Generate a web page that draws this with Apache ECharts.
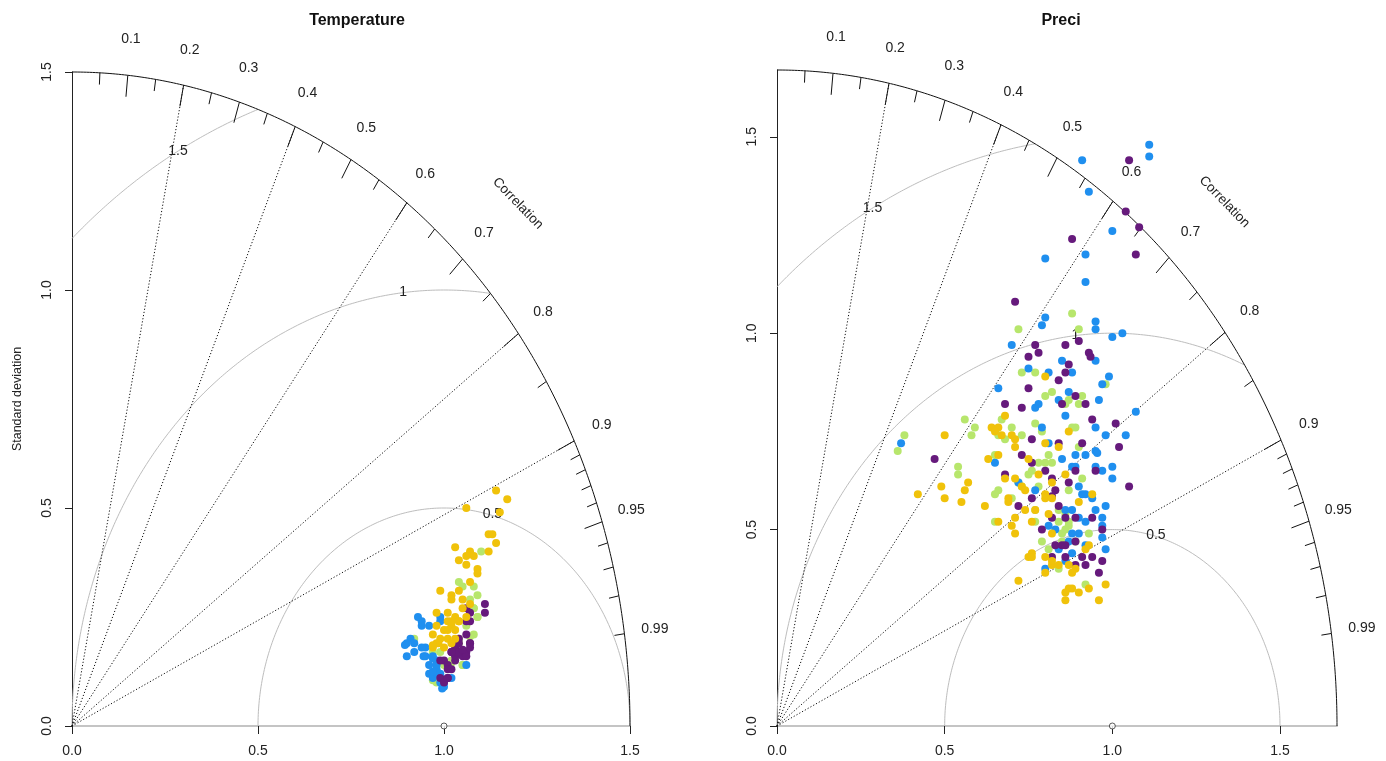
<!DOCTYPE html>
<html>
<head>
<meta charset="utf-8">
<script src="https://cdn.jsdelivr.net/npm/echarts@6/dist/echarts.min.js"></script>
<style>html,body{margin:0;padding:0;background:#fff}#c{width:1386px;height:761px}</style>
</head>
<body>
<div id="c"></div>
<script>
// ---------------- data ----------------
const panelTitles = ['Temperature', 'Preci'];
const maxSD = [1.5, 1.67];
const refSD = 1.0;
const sdTicks = [0, 0.5, 1.0, 1.5];
const corrLabelValues = [0.1, 0.2, 0.3, 0.4, 0.5, 0.6, 0.7, 0.8, 0.9, 0.95, 0.99];
const corrLineValues = [0.2, 0.4, 0.6, 0.8, 0.9];
const corrLongTicks = [0.1, 0.2, 0.3, 0.4, 0.5, 0.6, 0.7, 0.8, 0.9, 0.95];
const corrShortTicks = [0.05, 0.15, 0.25, 0.35, 0.45, 0.55, 0.65, 0.75, 0.85, 0.91, 0.92, 0.93, 0.94, 0.96, 0.97, 0.98, 0.99];
const rmsRadii = [0.5, 1, 1.5];
const rmsLabels = ['0.5', '1', '1.5'];
const rmsLabelPos = [[1.13, 0.487], [0.89, 0.996], [0.285, 1.318]];
const seriesNames = ['green', 'blue', 'purple', 'yellow'];
const seriesColors = ['#b7e66c', '#1f8fef', '#661a7c', '#f0c20a'];

// Temperature panel points: [x = sd*cor, y = sd*sqrt(1-cor^2)]
const tempBlue = [[0.93,0.25],[0.94,0.24],[0.96,0.23],[0.99,0.24],[0.91,0.20],[0.90,0.19],[0.90,0.16],[0.92,0.17],[0.95,0.18],[0.95,0.16],[0.97,0.16],[0.96,0.14],[0.96,0.12],[0.98,0.15],[0.97,0.11],[0.98,0.12],[1.00,0.10],[1.00,0.09],[0.99,0.10],[0.98,0.13],[1.06,0.14],[0.94,0.23],[0.895,0.186],[0.92,0.19],[0.94,0.18],[0.945,0.16],[0.97,0.155],[0.98,0.14],[0.97,0.125],[0.99,0.12],[1.02,0.11],[0.995,0.086],[0.99,0.25]];
const tempPurple = [[1.11,0.28],[1.11,0.26],[1.06,0.27],[1.06,0.24],[1.06,0.21],[1.07,0.19],[1.05,0.17],[1.03,0.16],[1.02,0.17],[1.03,0.18],[1.00,0.15],[1.01,0.14],[0.99,0.11],[1.01,0.11],[1.01,0.13],[1.04,0.20],[1.05,0.16],[0.99,0.15],[1.00,0.10],[1.07,0.26],[1.07,0.24],[1.04,0.19],[1.07,0.19],[1.04,0.17],[1.02,0.17],[1.06,0.17],[1.06,0.16],[1.03,0.15],[1.02,0.13],[1.01,0.11],[1.05,0.175],[1.07,0.18]];
const tempYellow = [[1.14,0.54],[1.17,0.52],[1.06,0.50],[1.15,0.49],[1.12,0.44],[1.13,0.44],[1.14,0.42],[1.03,0.41],[1.12,0.40],[1.07,0.40],[1.06,0.39],[1.08,0.39],[1.04,0.38],[1.06,0.37],[1.09,0.36],[1.09,0.35],[1.07,0.33],[0.99,0.31],[1.02,0.30],[1.02,0.29],[1.05,0.29],[1.04,0.31],[0.98,0.26],[1.01,0.24],[1.03,0.25],[0.98,0.23],[0.97,0.21],[1.00,0.22],[1.02,0.23],[1.04,0.24],[0.98,0.19],[0.99,0.20],[1.03,0.20],[0.97,0.18],[1.05,0.27],[1.02,0.24],[1.07,0.28],[1.03,0.22],[1.01,0.20],[1.04,0.24],[1.00,0.18],[1.02,0.19],[1.06,0.25],[1.01,0.26],[1.01,0.22],[0.985,0.19],[0.97,0.185]];
const tempGreen = [[1.10,0.40],[1.04,0.33],[1.05,0.32],[1.08,0.32],[1.09,0.30],[1.07,0.29],[1.08,0.27],[1.09,0.25],[1.08,0.21],[1.06,0.23],[1.04,0.19],[1.01,0.14],[0.98,0.10],[1.05,0.14],[1.02,0.15],[1.04,0.17],[0.92,0.20],[0.97,0.17],[1.08,0.27],[1.09,0.25],[1.04,0.20],[0.99,0.17],[1.03,0.16],[1.02,0.145],[1.05,0.14],[1.00,0.14],[0.97,0.105],[0.99,0.11],[1.07,0.205]];

// Preci panel points
const preciBlue = [[1.11,1.48],[1.11,1.45],[0.91,1.44],[0.93,1.36],[1.00,1.26],[0.92,1.20],[0.80,1.19],[0.92,1.13],[0.79,1.02],[0.80,1.04],[0.95,1.03],[0.95,1.01],[1.00,0.99],[1.03,1.00],[0.70,0.97],[0.75,0.91],[0.95,0.93],[0.85,0.93],[0.81,0.90],[0.88,0.90],[0.99,0.89],[0.97,0.87],[0.66,0.86],[0.87,0.85],[0.84,0.83],[0.96,0.83],[0.78,0.82],[0.77,0.81],[0.86,0.79],[1.07,0.80],[0.79,0.76],[0.95,0.76],[0.98,0.74],[1.04,0.74],[0.81,0.72],[0.95,0.70],[0.955,0.695],[0.89,0.69],[0.92,0.69],[0.85,0.68],[0.88,0.66],[0.89,0.66],[0.65,0.67],[1.00,0.66],[0.95,0.66],[0.97,0.65],[1.00,0.63],[0.72,0.62],[0.77,0.60],[0.90,0.61],[0.92,0.59],[0.91,0.59],[0.94,0.58],[0.98,0.56],[0.86,0.55],[0.88,0.55],[0.95,0.55],[0.97,0.53],[0.90,0.53],[0.92,0.52],[0.97,0.51],[0.81,0.51],[0.83,0.50],[0.88,0.49],[0.90,0.49],[0.97,0.48],[0.84,0.45],[0.87,0.47],[0.92,0.46],[0.98,0.45],[0.80,0.40],[0.86,0.42],[0.88,0.44],[0.37,0.72]];
const preciPurple = [[1.05,1.44],[1.04,1.31],[1.08,1.27],[1.07,1.20],[0.88,1.24],[0.71,1.08],[0.77,0.97],[0.86,0.97],[0.90,0.98],[0.75,0.94],[0.78,0.95],[0.93,0.95],[0.935,0.94],[0.87,0.92],[0.86,0.90],[0.84,0.88],[0.75,0.86],[0.89,0.84],[0.92,0.82],[0.85,0.82],[0.68,0.82],[0.73,0.81],[0.94,0.78],[1.01,0.77],[0.76,0.73],[0.84,0.72],[0.91,0.72],[1.02,0.71],[0.47,0.68],[0.73,0.69],[0.76,0.67],[0.89,0.65],[0.95,0.65],[0.80,0.65],[0.82,0.63],[0.87,0.62],[0.68,0.64],[1.05,0.61],[0.76,0.58],[0.72,0.56],[0.83,0.60],[0.82,0.585],[0.84,0.56],[0.79,0.50],[0.82,0.53],[0.86,0.53],[0.89,0.53],[0.94,0.53],[0.97,0.50],[0.83,0.46],[0.85,0.46],[0.86,0.46],[0.89,0.47],[0.91,0.43],[0.94,0.43],[0.97,0.42],[0.89,0.41],[0.82,0.43],[0.92,0.41],[0.96,0.39],[0.86,0.43]];
const preciYellow = [[0.80,0.89],[0.50,0.74],[0.64,0.76],[0.66,0.76],[0.68,0.79],[0.70,0.74],[0.71,0.73],[0.71,0.71],[0.67,0.74],[0.65,0.75],[0.80,0.72],[0.84,0.71],[0.87,0.75],[0.63,0.68],[0.66,0.69],[0.75,0.68],[0.78,0.64],[0.82,0.62],[0.86,0.64],[0.68,0.63],[0.71,0.63],[0.73,0.61],[0.74,0.60],[0.80,0.59],[0.80,0.58],[0.82,0.58],[0.49,0.61],[0.57,0.62],[0.56,0.60],[0.42,0.59],[0.50,0.58],[0.55,0.57],[0.62,0.56],[0.66,0.52],[0.69,0.58],[0.69,0.57],[0.74,0.55],[0.71,0.53],[0.77,0.55],[0.70,0.51],[0.71,0.49],[0.76,0.52],[0.81,0.54],[0.82,0.49],[0.90,0.57],[0.94,0.59],[0.75,0.43],[0.76,0.44],[0.76,0.43],[0.80,0.43],[0.82,0.41],[0.84,0.41],[0.87,0.41],[0.89,0.40],[0.88,0.39],[0.80,0.39],[0.92,0.45],[0.93,0.46],[0.72,0.37],[0.87,0.35],[0.88,0.35],[0.93,0.35],[0.98,0.36],[0.86,0.34],[0.90,0.34],[0.86,0.32],[0.96,0.32],[0.82,0.42]];
const preciGreen = [[0.88,1.05],[0.90,1.01],[0.72,1.01],[0.73,0.90],[0.77,0.90],[0.80,0.84],[0.82,0.85],[0.91,0.84],[0.87,0.83],[0.90,0.82],[0.86,0.82],[0.98,0.87],[0.88,0.76],[0.89,0.76],[0.79,0.75],[0.77,0.77],[0.73,0.74],[0.67,0.78],[0.70,0.76],[0.68,0.73],[0.66,0.74],[0.59,0.76],[0.58,0.74],[0.56,0.78],[0.38,0.74],[0.36,0.70],[0.54,0.66],[0.54,0.64],[0.65,0.69],[0.81,0.69],[0.78,0.67],[0.80,0.67],[0.82,0.67],[0.90,0.71],[0.91,0.63],[0.75,0.64],[0.76,0.65],[0.72,0.62],[0.73,0.61],[0.66,0.60],[0.65,0.59],[0.70,0.58],[0.78,0.61],[0.87,0.60],[0.84,0.55],[0.86,0.54],[0.84,0.52],[0.85,0.49],[0.87,0.51],[0.77,0.55],[0.77,0.52],[0.65,0.52],[0.79,0.47],[0.93,0.49],[0.84,0.40],[0.92,0.36],[0.81,0.45],[0.89,0.47],[0.86,0.50],[0.87,0.52],[0.85,0.47]];

const panelData = [
  [tempGreen, tempBlue, tempPurple, tempYellow],
  [preciGreen, preciBlue, preciPurple, preciYellow]
];

// ---------------- layout / style ----------------
const FONT = '"Liberation Sans", Arial, Helvetica, sans-serif';
const grids = [
  {left: 72, top: 72, width: 558, height: 654},
  {left: 777, top: 70, width: 560, height: 656}
];
const titleX = [352, 1056];

// geometry helpers (guide lines only)
function outerArc(R, n) {
  const pts = [];
  for (let i = 0; i <= n; i++) { const t = Math.PI / 2 * i / n; pts.push([R * Math.cos(t), R * Math.sin(t)]); }
  return pts;
}
function rmsArc(r, R, n) {
  const xi = (R * R - r * r + refSD * refSD) / (2 * refSD);
  const t0 = (refSD + r <= R) ? 0 : Math.acos(Math.max(-1, Math.min(1, (xi - refSD) / r)));
  const t1 = (r <= refSD) ? Math.PI : Math.acos(-refSD / r);
  const pts = [];
  for (let i = 0; i <= n; i++) { const t = t0 + (t1 - t0) * i / n; pts.push([refSD + r * Math.cos(t), r * Math.sin(t)]); }
  return pts;
}
function polar(c, r) { return [r * c, r * Math.sqrt(1 - c * c)]; }

const xAxes = [], yAxes = [], series = [];
for (let p = 0; p < 2; p++) {
  const R = maxSD[p];
  xAxes.push({
    gridIndex: p, type: 'value', min: 0, max: R,
    splitLine: {show: false},
    axisLine: {show: true, lineStyle: {color: '#c4c4c4', width: 2}},
    axisTick: {show: true, length: 8, customValues: sdTicks, lineStyle: {color: '#222', width: 1}},
    axisLabel: {show: true, customValues: sdTicks, margin: 18, color: '#222', fontSize: 14, fontFamily: FONT,
      formatter: v => v.toFixed(1)}
  });
  yAxes.push({
    gridIndex: p, type: 'value', min: 0, max: R,
    splitLine: {show: false},
    axisLine: {show: true, lineStyle: {color: '#222', width: 1}},
    axisTick: {show: true, length: 7, customValues: sdTicks, lineStyle: {color: '#222', width: 1}},
    axisLabel: {show: true, customValues: sdTicks, rotate: 90, margin: 18, color: '#222', fontSize: 14, fontFamily: FONT,
      formatter: v => v.toFixed(1)},
    name: p === 0 ? 'Standard deviation' : '',
    nameLocation: 'middle', nameGap: 48,
    nameTextStyle: {color: '#222', fontSize: 12.5, fontFamily: FONT}
  });
  const ax = {xAxisIndex: p, yAxisIndex: p};
  // RMS arcs around reference point
  rmsRadii.forEach(r => series.push({
    type: 'line', ...ax, data: rmsArc(r, R, 240), symbol: 'none', silent: true, clip: false, animation: false,
    lineStyle: {color: '#bdbdbd', width: 1}, z: 1
  }));
  // correlation rays
  series.push({
    type: 'lines', coordinateSystem: 'cartesian2d', ...ax, silent: true, animation: false, z: 2,
    lineStyle: {color: '#111', width: 1, type: [1.2, 2], opacity: 1},
    data: corrLineValues.map(c => ({coords: [[0, 0], polar(c, R)]}))
  });
  // outer arc
  series.push({
    type: 'line', ...ax, data: outerArc(R, 300), symbol: 'none', silent: true, clip: false, animation: false,
    lineStyle: {color: '#111', width: 1}, z: 3
  });
  // ticks on outer arc
  series.push({
    type: 'lines', coordinateSystem: 'cartesian2d', ...ax, silent: true, animation: false, z: 3,
    lineStyle: {color: '#111', width: 1, opacity: 1},
    data: corrLongTicks.map(c => ({coords: [polar(c, R), polar(c, R * 0.967)]}))
      .concat(corrShortTicks.map(c => ({coords: [polar(c, R), polar(c, R * 0.982)]})))
  });
  // text labels
  const labels = [];
  corrLabelValues.forEach(c => { const q = polar(c, R * 1.055); labels.push({x: q[0], y: q[1], text: String(c), size: 14, rot: 0}); });
  const qc = polar(Math.SQRT1_2, R * 1.13);
  labels.push({x: qc[0], y: qc[1], text: 'Correlation', size: 13.5, rot: -46});
  rmsLabelPos.forEach((pos, i) => labels.push({x: pos[0], y: pos[1], text: rmsLabels[i], size: 14, rot: 0}));
  series.push({
    type: 'custom', ...ax, silent: true, animation: false, clip: false, z: 4,
    data: labels.map(l => [l.x, l.y]),
    renderItem: (params, api) => {
      const l = labels[params.dataIndex];
      const pt = api.coord([l.x, l.y]);
      return {
        type: 'text', x: pt[0], y: pt[1], rotation: l.rot * Math.PI / 180,
        style: {text: l.text, fill: '#222', fontSize: l.size, fontFamily: FONT, align: 'center', verticalAlign: 'middle'}
      };
    }
  });
  // reference point
  series.push({
    type: 'scatter', ...ax, data: [[refSD, 0]], symbol: 'circle', symbolSize: 6, silent: true, animation: false, clip: false, z: 6,
    itemStyle: {color: '#fff', borderColor: '#333', borderWidth: 1}
  });
  // model points
  panelData[p].forEach((arr, k) => series.push({
    type: 'scatter', ...ax, name: seriesNames[k], data: arr, symbol: 'circle', symbolSize: 8,
    silent: true, animation: false, clip: false, z: 10 + k,
    itemStyle: {color: seriesColors[k], opacity: 1}
  }));
}

const chart = echarts.init(document.getElementById('c'));
chart.setOption({
  backgroundColor: '#fff',
  animation: false,
  title: panelTitles.map((t, i) => ({
    text: t, left: titleX[i], top: 8, textAlign: 'center',
    textStyle: {fontSize: 16, fontWeight: 'bold', color: '#111', fontFamily: FONT}
  })),
  grid: grids,
  xAxis: xAxes,
  yAxis: yAxes,
  series: series
});
</script>
</body>
</html>
